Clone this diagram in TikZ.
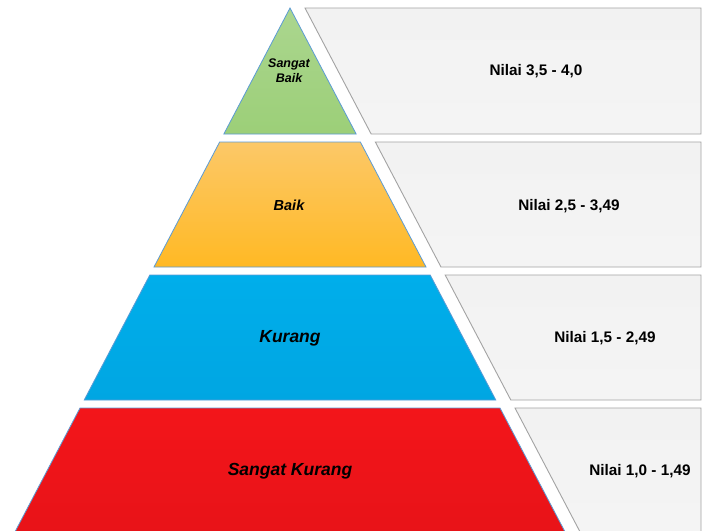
\documentclass[tikz,border=0pt]{standalone}
\usepackage{fontspec}
\setmainfont{Liberation Sans}
\definecolor{edgeblue}{HTML}{5B9BD5}
\definecolor{greenT}{HTML}{ABD68F}
\definecolor{greenB}{HTML}{9CCF78}
\definecolor{orangeT}{HTML}{FCC868}
\definecolor{orangeB}{HTML}{FFB924}
\definecolor{blueT}{HTML}{00AEEB}
\definecolor{blueB}{HTML}{00A6E2}
\definecolor{redT}{HTML}{F3151A}
\definecolor{redB}{HTML}{E81318}
\definecolor{boxT}{HTML}{F2F2F2}
\definecolor{boxB}{HTML}{F4F4F4}
\definecolor{boxline}{HTML}{A3A3A3}
\tikzset{
  layerpath/.style={draw=edgeblue, line width=0.8pt, line join=miter},
  boxpath/.style={draw=boxline, line width=0.9pt, top color=boxT, bottom color=boxB},
  boxtext/.style={font=\bfseries\fontsize{15.3}{18}\selectfont, inner sep=0pt},
  smalltext/.style={font=\bfseries\itshape\fontsize{12.5}{15}\selectfont, inner sep=0pt, align=center},
  midtext/.style={font=\bfseries\itshape\fontsize{14.5}{17}\selectfont, inner sep=0pt},
  bigtext/.style={font=\bfseries\itshape\fontsize{17.5}{21}\selectfont, inner sep=0pt}
}
\begin{document}
\begin{tikzpicture}[x=1pt,y=-1pt]
\useasboundingbox (0,0) rectangle (706,530);
\clip (0,0) rectangle (706,530);
\fill[white] (0,0) rectangle (706,530);

% pyramid layers
\path[layerpath, top color=greenT, bottom color=greenB]
  (290,8) -- (356.15,134) -- (223.85,134) -- cycle;
\path[layerpath, top color=orangeT, bottom color=orangeB]
  (219.65,142) -- (360.35,142) -- (426.0,267) -- (154.0,267) -- cycle;
\path[layerpath, top color=blueT, bottom color=blueB]
  (149.8,275) -- (430.2,275) -- (495.8,400) -- (84.2,400) -- cycle;
\path[layerpath, top color=redT, bottom color=redB]
  (80,408) -- (500,408) -- (566.15,534) -- (13.85,534) -- cycle;

% value boxes
\path[boxpath] (305,8) -- (701,8) -- (701,134) -- (371.15,134) -- cycle;
\path[boxpath] (375.35,142) -- (701,142) -- (701,267) -- (440.98,267) -- cycle;
\path[boxpath] (445.18,275) -- (701,275) -- (701,400) -- (510.8,400) -- cycle;
\path[boxpath] (515,408) -- (701,408) -- (701,534) -- (581.15,534) -- cycle;

% labels
\node[smalltext] (l1) at (289,71) {Sangat\\Baik};
\node[midtext] (l2) at (289,205) {Baik};
\node[bigtext] (l3) at (290,338) {Kurang};
\node[bigtext] (l4) at (290,471) {Sangat Kurang};

\node[boxtext] (v1) at (536,71) {Nilai 3,5 - 4,0};
\node[boxtext] (v2) at (569,206) {Nilai 2,5 - 3,49};
\node[boxtext] (v3) at (605,338) {Nilai 1,5 - 2,49};
\node[boxtext] (v4) at (640,471) {Nilai 1,0 - 1,49};
\end{tikzpicture}
\end{document}
